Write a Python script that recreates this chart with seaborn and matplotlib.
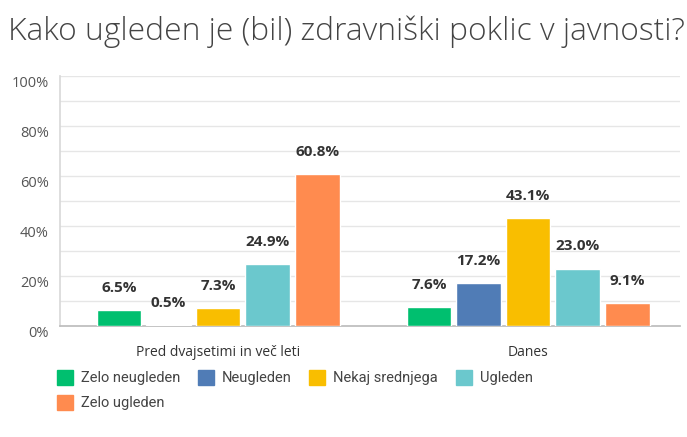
import matplotlib
matplotlib.use("Agg")
import matplotlib.pyplot as plt
import matplotlib.patches as mpatches
import seaborn as sns
import pandas as pd
import numpy as np

categories = ["Pred dvajsetimi in več leti", "Danes"]
series = ["Zelo neugleden", "Neugleden", "Nekaj srednjega", "Ugleden", "Zelo ugleden"]
values_pred = [6.5, 0.5, 7.3, 24.9, 60.8]
values_danes = [7.6, 17.2, 43.1, 23.0, 9.1]
colors = ["#00BF6F", "#507CB6", "#F9BE00", "#6BC8CD", "#FF8B4F"]
yticks = [0, 20, 40, 60, 80, 100]
title = "Kako ugleden je (bil) zdravniški poklic v javnosti?"

rows = []
for s, a, b in zip(series, values_pred, values_danes):
    rows.append({"cat": categories[0], "series": s, "val": a})
    rows.append({"cat": categories[1], "series": s, "val": b})
df = pd.DataFrame(rows)

sns.set_theme(style="white")
plt.rcParams["font.family"] = ["Open Sans", "DejaVu Sans"]

W, H = 687, 437
fig = plt.figure(figsize=(W / 100, H / 100), dpi=100)
ax = fig.add_axes([60 / W, (H - 326) / H, 620 / W, 250 / H])

sns.barplot(data=df, x="cat", y="val", hue="series", order=categories,
            hue_order=series, palette=colors, width=0.8, gap=0.1,
            saturation=1, ax=ax, legend=False, zorder=3)

ax.set_xlim(-0.51, 1.49)
ax.set_ylim(0, 100)
ax.set_yticks(yticks)
ax.set_yticklabels([f"{t}%" for t in yticks], color="#555555", fontsize=10.5)
ax.set_yticks(np.arange(0, 101, 10), minor=True)
ax.grid(True, axis="y", which="both", color="#E6E6E6", linewidth=1, zorder=0)
ax.tick_params(axis="y", which="both", length=0, pad=8)
ax.tick_params(axis="x", length=0, pad=14, labelsize=10, labelcolor="#333333")
for lbl in ax.get_yticklabels():
    lbl.set_verticalalignment("top")
ax.set_xlabel("")
ax.set_ylabel("")
for sp in ["top", "right"]:
    ax.spines[sp].set_visible(False)
ax.spines["left"].set_color("#D9D9D9")
ax.spines["bottom"].set_color("#BDBDBD")

for cont in ax.containers:
    for bar in cont:
        h = bar.get_height()
        ax.annotate(f"{h:.1f}%", (bar.get_x() + bar.get_width() / 2, h),
                    xytext=(0, 15), textcoords="offset pixels",
                    ha="center", va="bottom", fontsize=11, fontweight="bold",
                    color="#333333")

fig.text(8 / W, 1 - 32 / H, title, fontsize=22.9, color="#444444",
         va="center", ha="left", fontweight="light")

# legend: row-wise order for a 4-column layout (matplotlib fills column-wise)
order = [0, 4, 1, 2, 3]
handles = [mpatches.Patch(facecolor=colors[i], edgecolor=colors[i]) for i in order]
labels = [series[i] for i in order]
leg = fig.legend(handles, labels, ncol=4, loc="upper left",
                 bbox_to_anchor=(57 / W, 1 - 370 / H), frameon=False,
                 prop={"family": "Roboto", "size": 10.5},
                 handlelength=1.1, handleheight=1.2,
                 handletextpad=0.55, columnspacing=1.2, labelspacing=0.65,
                 borderaxespad=0, borderpad=0)
for t in leg.get_texts():
    t.set_color("#444444")

fig.savefig("out.png", dpi=100)
